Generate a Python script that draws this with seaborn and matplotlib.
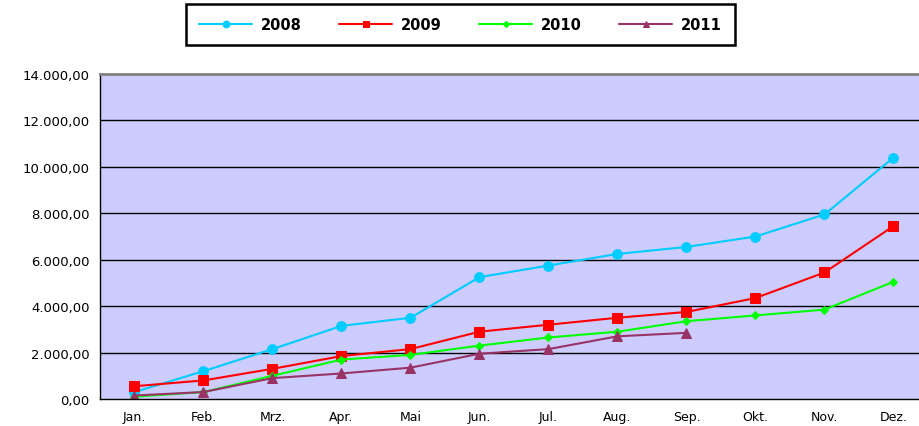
import numpy as np
import pandas as pd
import matplotlib
matplotlib.use("Agg")
import matplotlib.pyplot as plt
from matplotlib.ticker import FuncFormatter
import seaborn as sns

# ------------------------------
# Data
# ------------------------------
months = ["Jan.", "Feb.", "Mrz.", "Apr.", "Mai", "Jun.", "Jul.", "Aug.", "Sep.", "Okt.", "Nov.", "Dez."]
v2008 = [300, 1200, 2150, 3150, 3500, 5250, 5750, 6250, 6550, 7000, 7950, 10400]
v2009 = [550, 800, 1300, 1850, 2150, 2900, 3200, 3500, 3750, 4350, 5450, 7450]
v2010 = [100, 300, 1000, 1700, 1900, 2300, 2650, 2900, 3350, 3600, 3850, 5050]
v2011 = [150, 300, 900, 1100, 1350, 1950, 2150, 2700, 2850, np.nan, np.nan, np.nan]
y_ticks = [0, 2000, 4000, 6000, 8000, 10000, 12000, 14000]

series = [
    ("2008", v2008, "#00CCFF", "o", 7),
    ("2009", v2009, "#FF0000", "s", 7),
    ("2010", v2010, "#00FF00", "D", 4.5),
    ("2011", v2011, "#993366", "^", 6.5),
]

sns.set_style("white")
plt.rcParams["font.family"] = ["DejaVu Sans"]
plt.rcParams["text.color"] = "black"
plt.rcParams["xtick.color"] = "black"
plt.rcParams["ytick.color"] = "black"

fig = plt.figure(figsize=(9.2, 4.27), dpi=100)
ax = fig.add_axes([100 / 920, 27 / 427, 828 / 920, 325 / 427])
ax.set_facecolor("#CCCCFF")

x = np.arange(len(months))
for name, vals, color, marker, ms in series:
    df = pd.DataFrame({"x": x, "y": vals}).dropna()
    sns.lineplot(data=df, x="x", y="y", ax=ax, color=color, marker=marker,
                 markersize=ms, markeredgecolor=color, linewidth=1.5, label=name)

# ------------------------------
# Axes styling
# ------------------------------
ax.set_xlim(-0.5, 11.5)
ax.set_ylim(0, 14000)
ax.set_yticks(y_ticks)
ax.yaxis.set_major_formatter(FuncFormatter(
    lambda v, p: f"{v:,.2f}".replace(",", "X").replace(".", ",").replace("X", ".")))
ax.set_xticks(x)
ax.set_xticklabels(months)
ax.set_xticks(np.arange(-0.5, 12, 1), minor=True)
ax.tick_params(axis="x", which="major", length=0, pad=8, labelsize=9)
ax.tick_params(axis="x", which="minor", length=4, width=1, color="black", direction="out")
ax.tick_params(axis="y", length=4, width=1, color="black", direction="out", labelsize=9.5)
ax.set_xlabel("")
ax.set_ylabel("")

for yv in y_ticks[1:-1]:
    ax.axhline(yv, color="black", lw=1, zorder=1)

for s in ["left", "bottom"]:
    ax.spines[s].set_color("black")
    ax.spines[s].set_linewidth(1)
ax.spines["top"].set_color("#808080")
ax.spines["top"].set_linewidth(2)
ax.spines["right"].set_visible(False)

ax.get_legend().remove()
handles, labels = ax.get_legend_handles_labels()
leg = fig.legend(handles, labels, loc="center", ncol=4,
                 bbox_to_anchor=(460.5 / 920, (427 - 25.5) / 427),
                 prop={"weight": "bold", "size": 10.5}, handlelength=3.6,
                 markerscale=0.7, columnspacing=2.6, handletextpad=0.6,
                 borderpad=0.9, borderaxespad=0.5,
                 fancybox=False, edgecolor="black", framealpha=1)
leg.get_frame().set_linewidth(1.8)

fig.savefig("out.png", dpi=100)
